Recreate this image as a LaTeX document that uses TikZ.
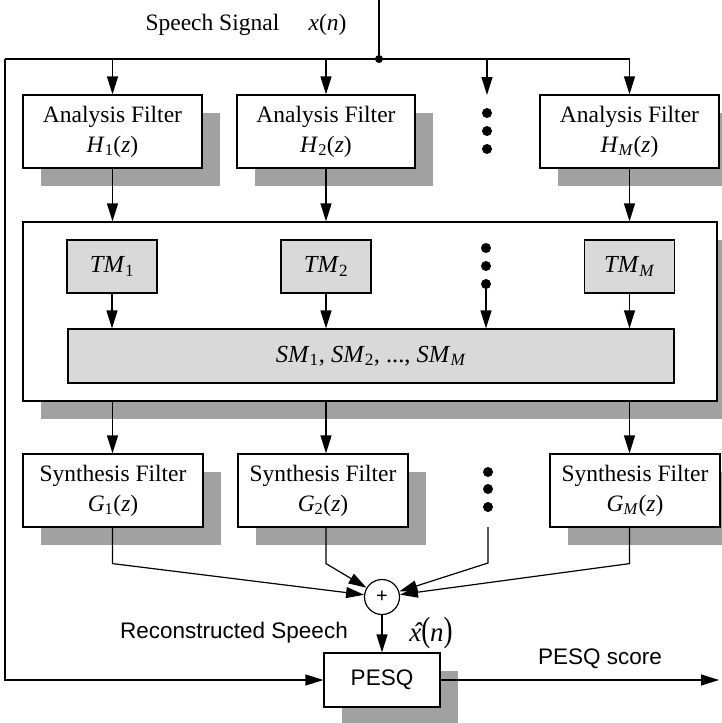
\documentclass[tikz,border=0pt]{standalone}
\usepackage{fontspec}
\setmainfont{Liberation Serif}
\setsansfont{Liberation Sans}
\usetikzlibrary{positioning,arrows.meta,shadows}

\begin{document}
\begin{tikzpicture}[x=1pt, y=-1pt,
    every node/.style={font=\fontsize{23.5}{30}\selectfont},
    filt/.style={draw, line width=1.2pt, fill=white, minimum height=73pt, align=center, inner sep=0pt,
        drop shadow={shadow xshift=18pt, shadow yshift=-18pt, fill=black!37, opacity=1}},
    tmbox/.style={draw, line width=1.2pt, fill=black!15, minimum width=90pt, minimum height=53pt, inner sep=0pt,
        font=\fontsize{24.5}{30}\selectfont},
    sans/.style={font=\sffamily\fontsize{22.5}{27}\selectfont},
    sumnode/.style={draw, circle, line width=1.2pt, minimum size=35pt, inner sep=0pt, font=\sffamily\fontsize{20}{20}\selectfont},
    junc/.style={circle, fill, inner sep=0pt, minimum size=8pt},
    arrow/.style={-{Triangle[length=18pt,width=11pt]}, line width=1.2pt},
    wire/.style={line width=1.2pt},
]
\useasboundingbox (0,0) rectangle (721,723);

% input
\node (speech) at (246,25) {Speech Signal \quad\textit{x}(\textit{n})};
\coordinate (in) at (379,0);
\node[junc] (jn) at (379,59) {};
\coordinate (lc) at (5,59);

% analysis bank
\node[filt, minimum width=179pt] (a1) at (112.5,131.5) {Analysis Filter\\\textit{H}\textsubscript{1}(\textit{z})};
\node[filt, minimum width=178pt] (a2) at (326,131.5) {Analysis Filter\\\textit{H}\textsubscript{2}(\textit{z})};
\node[filt, minimum width=179pt] (a3) at (629.5,131.5) {Analysis Filter\\\textit{H}\textsubscript{\textit{M}}(\textit{z})};
\coordinate (d1) at (487,95);
\foreach \y in {113,131,149} \fill (487,\y) circle (5pt);

% masking block
\node[filt, minimum width=694pt, minimum height=179pt] (tmsm) at (370,311.5) {};
\node[tmbox] (t1) at (112,266.5) {\textit{TM}\textsubscript{1}};
\node[tmbox] (t2) at (326,266.5) {\textit{TM}\textsubscript{2}};
\node[tmbox] (t3) at (629.5,266.5) {\textit{TM}\textsubscript{\textit{M}}};
\node[tmbox, minimum width=606pt, minimum height=54pt] (sm) at (371,356)
    {\textit{SM}\textsubscript{1}, \textit{SM}\textsubscript{2}, ..., \textit{SM}\textsubscript{\textit{M}}};
\coordinate (d2) at (486,289);
\foreach \y in {248,266,284} \fill (486,\y) circle (5pt);

% synthesis bank
\node[filt, minimum width=180pt] (s1) at (113,490.5) {Synthesis Filter\\\textit{G}\textsubscript{1}(\textit{z})};
\node[filt, minimum width=170pt] (s2) at (323,490.5) {Synthesis Filter\\\textit{G}\textsubscript{2}(\textit{z})};
\node[filt, minimum width=170pt] (s3) at (635,490.5) {Synthesis Filter\\\textit{G}\textsubscript{\textit{M}}(\textit{z})};
\coordinate (d3) at (488,527);
\foreach \y in {472,489,507} \fill (488,\y) circle (5pt);

% sum and PESQ
\node[sumnode] (sum) at (382,597) {+};
\node[filt, sans, minimum width=116pt, minimum height=54pt] (pesq) at (382,680) {PESQ};
\node[sans] (recon) at (234,633) {Reconstructed Speech};
\node[font=\fontsize{27}{30}\selectfont] (xhat) at (431,633)
    {\ooalign{\textit{x}\cr\hidewidth\kern0.2em\textit{\char"02C6}\hidewidth\cr}\scalebox{1}[1.3]{(}\textit{n}\scalebox{1}[1.3]{)}};
\node[sans] (score) at (600,659) {PESQ score};
\coordinate (out) at (719,680);

% connectors
\draw[wire] (in) -- (jn);
\draw[wire] (a3.north |- jn) -- (lc);
\draw[arrow] (lc) |- (pesq);
\draw[arrow] (a1.north |- jn) -- (a1);
\draw[arrow] (a2.north |- jn) -- (a2);
\draw[arrow] (d1 |- jn) -- (d1);
\draw[arrow] (a3.north |- jn) -- (a3);

\draw[arrow] (a1) -- (a1 |- tmsm.north);
\draw[arrow] (a2) -- (a2 |- tmsm.north);
\draw[arrow] (a3) -- (a3 |- tmsm.north);

\draw[arrow] (t1) -- (t1 |- sm.north);
\draw[arrow] (t2) -- (t2 |- sm.north);
\draw[arrow] (d2) -- (d2 |- sm.north);
\draw[arrow] (t3) -- (t3 |- sm.north);

\draw[arrow] (a1 |- tmsm.south) -- (a1 |- s1.north);
\draw[arrow] (a2 |- tmsm.south) -- (a2 |- s2.north);
\draw[arrow] (a3 |- tmsm.south) -- (a3 |- s3.north);

\draw[arrow] (a1 |- s1.south) -- ++(0,36) -- (sum);
\draw[arrow] (a2 |- s2.south) -- ++(0,36) -- (sum);
\draw[arrow] (d3) -- ++(0,36) -- (sum);
\draw[arrow] (a3 |- s3.south) -- ++(0,36) -- (sum);

\draw[arrow] (sum) -- (pesq);
\draw[arrow] (pesq) -- (out);
\end{tikzpicture}
\end{document}
